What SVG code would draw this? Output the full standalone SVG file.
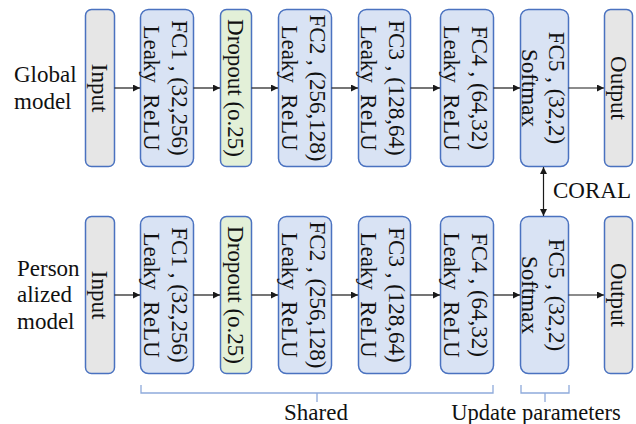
<svg xmlns="http://www.w3.org/2000/svg" width="636" height="424" viewBox="0 0 636 424">
  <style>
    .box { stroke: #4a72c0; stroke-width: 1.5; }
    .io { fill: #e6e6e6; }
    .fc { fill: #d9e3f4; }
    .drop { fill: #e3f0d8; }
    .t { font-family: "Liberation Serif", "Times New Roman", serif; font-size: 23px; fill: #111; }
    .lbl { font-family: "Liberation Serif", "Times New Roman", serif; font-size: 23px; fill: #111; }
    .arr { stroke: #1a1a1a; stroke-width: 1.2; fill: none; }
    .brace { stroke: #8eaadb; stroke-width: 1.3; fill: none; }
  </style>
  <defs>
    <marker id="ah" viewBox="0 0 10 10" refX="10" refY="5" markerWidth="7" markerHeight="7" markerUnits="userSpaceOnUse" orient="auto">
      <path d="M0,0 L10,5 L0,10 Z" fill="#1a1a1a"/>
    </marker>
    <marker id="ahs" viewBox="0 0 10 10" refX="10" refY="5" markerWidth="7" markerHeight="7" markerUnits="userSpaceOnUse" orient="auto-start-reverse">
      <path d="M0,0 L10,5 L0,10 Z" fill="#1a1a1a"/>
    </marker>
  </defs>

  <!-- row labels -->
  <g id="label-global">
    <text class="lbl" x="14" y="82">Global</text>
    <text class="lbl" x="14" y="109">model</text>
  </g>
  <g id="label-personalized">
    <text class="lbl" x="17" y="276">Person</text>
    <text class="lbl" x="17" y="302">alized</text>
    <text class="lbl" x="17" y="329">model</text>
  </g>

  <!-- global model: row centre y = 88 -->
  <g id="g-input">
    <rect class="box io" x="85.5" y="9.5" width="29" height="157" rx="6"/>
    <text class="t" transform="translate(92,88) rotate(90)" text-anchor="middle">Input</text>
  </g>
  <g id="g-fc1">
    <rect class="box fc" x="140.5" y="9.5" width="53" height="157" rx="8"/>
    <text class="t" transform="translate(172,88) rotate(90)" text-anchor="middle">FC1 , (32,256)</text>
    <text class="t" transform="translate(144,88) rotate(90)" text-anchor="middle" xml:space="preserve">Leaky  ReLU</text>
  </g>
  <g id="g-dropout">
    <rect class="box drop" x="220.5" y="9.5" width="31" height="157" rx="6"/>
    <text class="t" transform="translate(228,88) rotate(90)" text-anchor="middle">Dropout (o.25)</text>
  </g>
  <g id="g-fc2">
    <rect class="box fc" x="278.5" y="9.5" width="53" height="157" rx="8"/>
    <text class="t" transform="translate(310,88) rotate(90)" text-anchor="middle">FC2 , (256,128)</text>
    <text class="t" transform="translate(282,88) rotate(90)" text-anchor="middle" xml:space="preserve">Leaky  ReLU</text>
  </g>
  <g id="g-fc3">
    <rect class="box fc" x="358.5" y="9.5" width="52" height="157" rx="8"/>
    <text class="t" transform="translate(389,88) rotate(90)" text-anchor="middle">FC3 , (128,64)</text>
    <text class="t" transform="translate(361,88) rotate(90)" text-anchor="middle" xml:space="preserve">Leaky  ReLU</text>
  </g>
  <g id="g-fc4">
    <rect class="box fc" x="440.5" y="9.5" width="53" height="157" rx="8"/>
    <text class="t" transform="translate(472,88) rotate(90)" text-anchor="middle">FC4 , (64,32)</text>
    <text class="t" transform="translate(444,88) rotate(90)" text-anchor="middle" xml:space="preserve">Leaky  ReLU</text>
  </g>
  <g id="g-fc5">
    <rect class="box fc" x="520.5" y="9.5" width="48" height="157" rx="8"/>
    <text class="t" transform="translate(549,88) rotate(90)" text-anchor="middle">FC5 , (32,2)</text>
    <text class="t" transform="translate(522,88) rotate(90)" text-anchor="middle">Softmax</text>
  </g>
  <g id="g-output">
    <rect class="box io" x="604.5" y="9.5" width="28" height="157" rx="6"/>
    <text class="t" transform="translate(611,88) rotate(90)" text-anchor="middle">Output</text>
  </g>

  <!-- personalized model: row centre y = 295 -->
  <g id="p-input">
    <rect class="box io" x="85.5" y="216.5" width="29" height="157" rx="6"/>
    <text class="t" transform="translate(92,295) rotate(90)" text-anchor="middle">Input</text>
  </g>
  <g id="p-fc1">
    <rect class="box fc" x="140.5" y="216.5" width="53" height="157" rx="8"/>
    <text class="t" transform="translate(172,295) rotate(90)" text-anchor="middle">FC1 , (32,256)</text>
    <text class="t" transform="translate(144,295) rotate(90)" text-anchor="middle" xml:space="preserve">Leaky  ReLU</text>
  </g>
  <g id="p-dropout">
    <rect class="box drop" x="220.5" y="216.5" width="31" height="157" rx="6"/>
    <text class="t" transform="translate(228,295) rotate(90)" text-anchor="middle">Dropout (o.25)</text>
  </g>
  <g id="p-fc2">
    <rect class="box fc" x="278.5" y="216.5" width="53" height="157" rx="8"/>
    <text class="t" transform="translate(310,295) rotate(90)" text-anchor="middle">FC2 , (256,128)</text>
    <text class="t" transform="translate(282,295) rotate(90)" text-anchor="middle" xml:space="preserve">Leaky  ReLU</text>
  </g>
  <g id="p-fc3">
    <rect class="box fc" x="358.5" y="216.5" width="52" height="157" rx="8"/>
    <text class="t" transform="translate(389,295) rotate(90)" text-anchor="middle">FC3 , (128,64)</text>
    <text class="t" transform="translate(361,295) rotate(90)" text-anchor="middle" xml:space="preserve">Leaky  ReLU</text>
  </g>
  <g id="p-fc4">
    <rect class="box fc" x="440.5" y="216.5" width="53" height="157" rx="8"/>
    <text class="t" transform="translate(472,295) rotate(90)" text-anchor="middle">FC4 , (64,32)</text>
    <text class="t" transform="translate(444,295) rotate(90)" text-anchor="middle" xml:space="preserve">Leaky  ReLU</text>
  </g>
  <g id="p-fc5">
    <rect class="box fc" x="520.5" y="216.5" width="48" height="157" rx="8"/>
    <text class="t" transform="translate(549,295) rotate(90)" text-anchor="middle">FC5 , (32,2)</text>
    <text class="t" transform="translate(522,295) rotate(90)" text-anchor="middle">Softmax</text>
  </g>
  <g id="p-output">
    <rect class="box io" x="604.5" y="216.5" width="28" height="157" rx="6"/>
    <text class="t" transform="translate(611,295) rotate(90)" text-anchor="middle">Output</text>
  </g>

  <!-- connectors -->
  <g id="connectors">
    <path class="arr" marker-end="url(#ah)" d="M114.5,88 H140"/>
    <path class="arr" marker-end="url(#ah)" d="M193.5,88 H220"/>
    <path class="arr" marker-end="url(#ah)" d="M251.5,88 H278"/>
    <path class="arr" marker-end="url(#ah)" d="M331.5,88 H358"/>
    <path class="arr" marker-end="url(#ah)" d="M410.5,88 H440"/>
    <path class="arr" marker-end="url(#ah)" d="M493.5,88 H520"/>
    <path class="arr" marker-end="url(#ah)" d="M568.5,88 H604"/>

    <path class="arr" marker-end="url(#ah)" d="M114.5,295 H140"/>
    <path class="arr" marker-end="url(#ah)" d="M193.5,295 H220"/>
    <path class="arr" marker-end="url(#ah)" d="M251.5,295 H278"/>
    <path class="arr" marker-end="url(#ah)" d="M331.5,295 H358"/>
    <path class="arr" marker-end="url(#ah)" d="M410.5,295 H440"/>
    <path class="arr" marker-end="url(#ah)" d="M493.5,295 H520"/>
    <path class="arr" marker-end="url(#ah)" d="M568.5,295 H604"/>

    <!-- CORAL link between the two FC5 layers -->
    <path class="arr" marker-start="url(#ahs)" marker-end="url(#ah)" d="M543.5,167 V216"/>
  </g>
  <text class="lbl" x="553" y="198">CORAL</text>

  <!-- braces under the personalized model -->
  <g id="brace-shared">
    <path class="brace" d="M141,385 V393 H493 V385 M317,393 V402"/>
    <text class="lbl" x="316" y="420" text-anchor="middle">Shared</text>
  </g>
  <g id="brace-update">
    <path class="brace" d="M521,385 V393 H569 V385 M545,393 V402"/>
    <text class="lbl" x="536" y="420" text-anchor="middle" style="font-size:22.5px">Update parameters</text>
  </g>
</svg>
